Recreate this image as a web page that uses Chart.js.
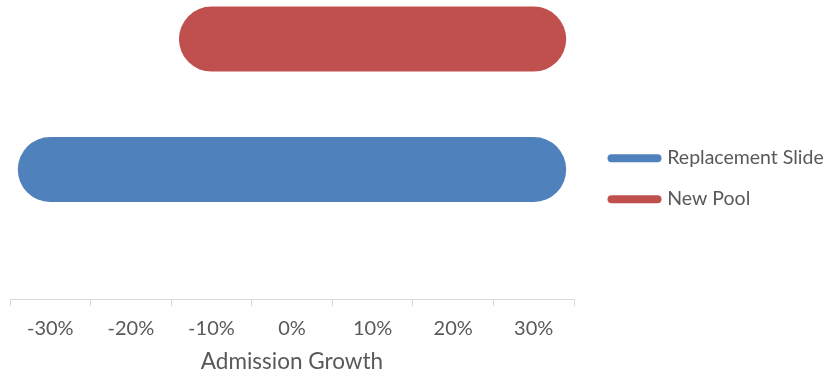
<!DOCTYPE html>
<html>
<head>
<meta charset="utf-8">
<title>Admission Growth</title>
<script src="https://cdn.jsdelivr.net/npm/chart.js@4.4.1/dist/chart.umd.min.js"></script>
<style>
  html, body { margin: 0; padding: 0; background: #fff; }
  #wrap { width: 828px; height: 376px; }
</style>
</head>
<body>
<div id="wrap"><canvas id="growth"></canvas></div>
<script>
// growth ranges per project, in percent
const seriesNames = ['Replacement Slide', 'New Pool'];
const seriesColors = ['#4F81BD', '#C0504D'];
const rangeLow = [-30, -10];
const rangeHigh = [30, 30];
const rowLevel = [1, 2];

const tickValues = [-30, -20, -10, 0, 10, 20, 30];
const tickLabels = ['-30%', '-20%', '-10%', '0%', '10%', '20%', '30%'];

const textColor = '#595959';
const axisColor = '#D9D9D9';
const fontFamily = 'Lato, "Open Sans", sans-serif';

const growth = document.getElementById('growth');

new Chart(growth, {
  type: 'scatter',
  data: {
    datasets: seriesNames.map((name, i) => ({
      label: name,
      data: [
        { x: rangeLow[i], y: rowLevel[i] },
        { x: rangeHigh[i], y: rowLevel[i] }
      ],
      showLine: true,
      borderColor: seriesColors[i],
      backgroundColor: seriesColors[i],
      borderWidth: 65,
      borderCapStyle: 'round',
      pointRadius: 0,
      pointHoverRadius: 0,
      clip: false
    }))
  },
  options: {
    responsive: true,
    maintainAspectRatio: false,
    animation: false,
    layout: {
      padding: { left: 10, right: 0, top: 0, bottom: 0 }
    },
    plugins: {
      tooltip: { enabled: false },
      legend: {
        position: 'right',
        align: 'center',
        fullSize: false,
        maxWidth: 238,
        // empty title only pushes the entries down a little
        title: {
          display: true,
          text: '',
          padding: { top: 0, bottom: 43 }
        },
        labels: {
          usePointStyle: true,
          pointStyleWidth: 46,
          padding: 21.5,
          color: textColor,
          font: { family: fontFamily, size: 19.5 },
          generateLabels: chart => chart.data.datasets.map((ds, i) => ({
            text: ds.label,
            strokeStyle: ds.borderColor,
            fillStyle: ds.borderColor,
            fontColor: textColor,
            lineWidth: 8,
            lineCap: 'round',
            pointStyle: 'line',
            hidden: false,
            datasetIndex: i
          }))
        }
      }
    },
    scales: {
      x: {
        type: 'linear',
        min: -35,
        max: 35,
        ticks: {
          stepSize: 5,
          autoSkip: false,
          maxRotation: 0,
          padding: 10,
          color: textColor,
          font: { family: fontFamily, size: 20, lineHeight: 1.3 },
          callback: value => {
            const i = tickValues.indexOf(value);
            return i >= 0 ? tickLabels[i] : '';
          }
        },
        grid: {
          drawOnChartArea: false,
          tickLength: 6,
          color: ctx => (ctx.tick && Math.abs(ctx.tick.value) % 10 === 5) ? axisColor : 'rgba(0,0,0,0)'
        },
        border: { display: true, color: axisColor, width: 1 },
        title: {
          display: true,
          text: 'Admission Growth',
          color: textColor,
          font: { family: fontFamily, size: 22.5, lineHeight: 0.85 },
          padding: { top: 0, bottom: 5 }
        }
      },
      y: {
        type: 'linear',
        position: 'right',
        display: false,
        min: 0,
        max: 2.3,
        // hidden, but still keeps a gap between the plot and the legend
        afterFit: scale => { scale.width = 16; }
      }
    }
  }
});
</script>
</body>
</html>
